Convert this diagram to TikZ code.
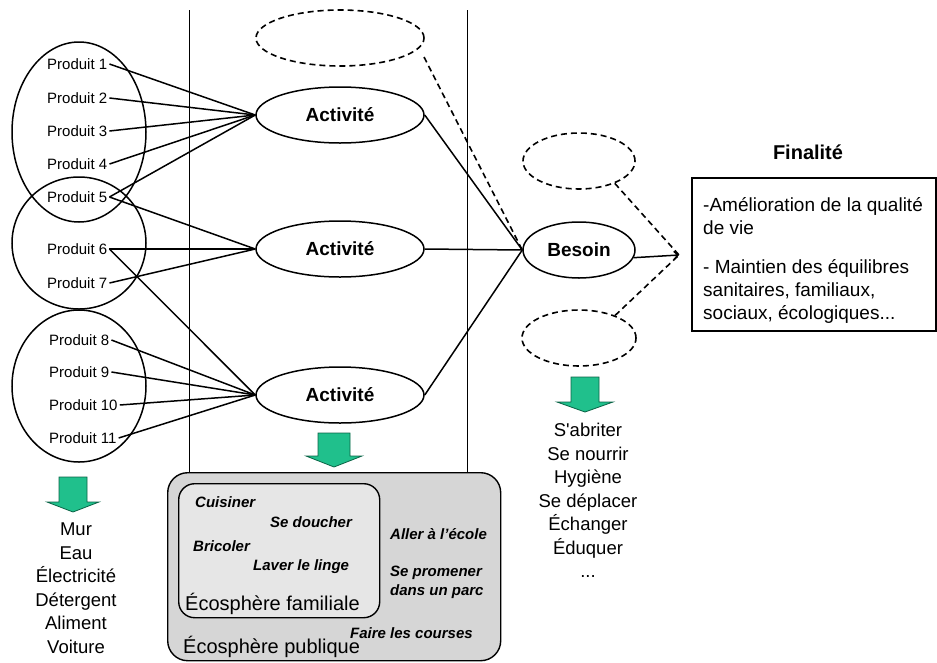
\documentclass[tikz,border=0pt]{standalone}
\usepackage{fontspec}
\setmainfont{Liberation Sans}
\usetikzlibrary{shapes.geometric,arrows.meta}
\definecolor{arrowfill}{RGB}{32,192,140}
\definecolor{arrowline}{RGB}{10,100,70}
\definecolor{pubgray}{RGB}{214,214,214}
\definecolor{famgray}{RGB}{230,230,230}
\begin{document}
\begin{tikzpicture}[x=1pt,y=-1pt,
  every node/.style={inner sep=0pt},
  conn/.style={line width=1.5pt},
  sep/.style={line width=0.8pt},
  dashline/.style={line width=1.6pt, dash pattern=on 6pt off 4pt},
  grp/.style={ellipse, draw, line width=1.5pt},
  act/.style={ellipse, draw, line width=1.5pt, minimum width=168pt, minimum height=56pt, font=\fontsize{19}{22}\selectfont\bfseries},
  ghost/.style={ellipse, draw, dashline, minimum height=56pt},
  prod/.style={anchor=west, inner xsep=2pt, font=\fontsize{15}{18}\selectfont},
  task/.style={anchor=west, font=\fontsize{15}{19}\selectfont\bfseries\itshape},
  sphere/.style={anchor=west, font=\fontsize{20}{24}\selectfont},
  garrow/.style={fill=arrowfill, draw=arrowline, line width=0.8pt, line join=miter},
  listtxt/.style={align=center, anchor=north, font=\fontsize{18.5}{23.5}\selectfont}
]
\useasboundingbox (0,0) rectangle (937,662);

% vertical separators
\draw[sep] (189,10) -- (189,472);
\draw[sep] (467,10) -- (467,472);

% product groups
\node[grp, minimum width=134pt, minimum height=180pt] (g1) at (79,132) {};
\node[grp, minimum width=134pt, minimum height=132pt] (g2) at (79,243) {};
\node[grp, minimum width=134pt, minimum height=152pt] (g3) at (79,386) {};

% products
\node[prod] (p1) at (45,64) {Produit 1};
\node[prod] (p2) at (45,98) {Produit 2};
\node[prod] (p3) at (45,131) {Produit 3};
\node[prod] (p4) at (45,164) {Produit 4};
\node[prod] (p5) at (45,197) {Produit 5};
\node[prod] (p6) at (45,249) {Produit 6};
\node[prod] (p7) at (45,283) {Produit 7};
\node[prod] (p8) at (47,340) {Produit 8};
\node[prod] (p9) at (47,372) {Produit 9};
\node[prod] (p10) at (47,405) {Produit 10};
\node[prod] (p11) at (47,438) {Produit 11};

% activities
\node[act] (a1) at (340,115) {Activité};
\node[act] (a2) at (340,249) {Activité};
\node[act] (a3) at (340,395) {Activité};
\node[ghost, minimum width=168pt] (dtop) at (340,38) {};

% need
\node[act, minimum width=112pt] (besoin) at (579,250) {Besoin};
\node[ghost, minimum width=112pt] (dr1) at (579,161) {};
\node[ghost, minimum width=114pt] (dr2) at (579,338) {};
\coordinate (tip) at (679,255);
\coordinate (dtopout) at (424,57);

% product -> activity
\foreach \p in {p1,p2,p3,p4,p5} \draw[conn] (\p.east) -- (a1.west);
\foreach \p in {p5,p6,p7} \draw[conn] (\p.east) -- (a2.west);
\foreach \p in {p6,p8,p9,p10,p11} \draw[conn] (\p.east) -- (a3.west);

% activity -> need
\draw[conn] (a1.east) -- (besoin.west);
\draw[conn] (a2.east) -- (besoin.west);
\draw[conn] (a3.east) -- (besoin.west);
\draw[dashline] (dtopout) -- (besoin.west);

% need -> finality
\draw[conn, -{Straight Barb[length=4pt,width=8pt]}] (besoin.-8) -- (tip);
\draw[dashline] (dr1.-32) -- (tip);
\draw[dashline] (dr2.32) -- (tip);

% finality
\node[font=\fontsize{20}{24}\selectfont\bfseries] (fintitle) at (808,152) {Finalité};
\node[draw, line width=1.5pt, anchor=north west, minimum width=244pt, minimum height=153pt] (finbox) at (691,177) {};
\node[anchor=north west, align=left, font=\fontsize{19}{23}\selectfont] (fintext) at (703,197)
  {-Amélioration de la qualité\\de vie\\[16pt]- Maintien des équilibres\\sanitaires, familiaux,\\sociaux, écologiques...};

% ecospheres
\node[draw, line width=1.4pt, fill=pubgray, rounded corners=20pt, anchor=north west, minimum width=333pt, minimum height=188pt] (pub) at (167,472) {};
\node[draw, line width=1.4pt, fill=famgray, rounded corners=16pt, anchor=north west, minimum width=201pt, minimum height=134pt] (fam) at (178,483) {};
\node[task] (t1) at (195,502) {Cuisiner};
\node[task] (t2) at (270,522) {Se doucher};
\node[task] (t3) at (193,546) {Bricoler};
\node[task] (t4) at (253,567) {Laver le linge};
\node[sphere] (famlabel) at (185,604) {Écosphère familiale};
\node[task] (t5) at (390,534) {Aller à l'école};
\node[task, align=left] (t6) at (390,582) {Se promener\\dans un parc};
\node[task] (t7) at (350,633) {Faire les courses};
\node[sphere] (publabel) at (183,647) {Écosphère publique};

% green arrows
\draw[garrow, shift={(73,0)}] (-14,477) -- (14,477) -- (14,502) -- (26,502) -- (0,512) -- (-26,502) -- (-14,502) -- cycle;
\draw[garrow, shift={(334,0)}] (-16,433) -- (16,433) -- (16,456) -- (28,456) -- (0,467) -- (-28,456) -- (-16,456) -- cycle;
\draw[garrow, shift={(585,0)}] (-14,377) -- (14,377) -- (14,402) -- (28,402) -- (0,412) -- (-28,402) -- (-14,402) -- cycle;

% lists
\node[listtxt] (objlist) at (76,523) {Mur\\Eau\\Électricité\\Détergent\\Aliment\\Voiture};
\node[listtxt] (needlist) at (588,423) {S\textquotesingle abriter\\Se nourrir\\Hygiène\\Se déplacer\\Échanger\\Éduquer\\...};
\end{tikzpicture}
\end{document}
